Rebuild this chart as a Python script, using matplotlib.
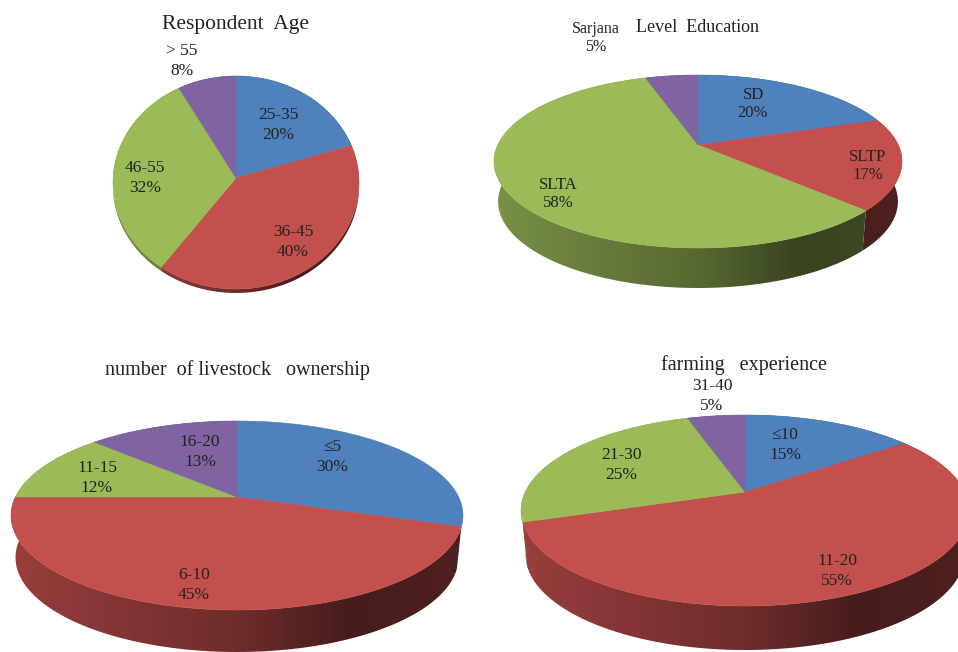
import numpy as np
import matplotlib
matplotlib.use("Agg")
import matplotlib.pyplot as plt
from matplotlib.colors import to_rgb
from matplotlib.patches import Polygon

plt.rcParams['font.family'] = ['Liberation Serif', 'DejaVu Serif']

W, H = 958, 652
COLORS = ['#4F81BD', '#C4504D', '#9BBB59', '#8064A2']

age_labels = ['25-35', '36-45', '46-55', '> 55']
age_values = [20, 40, 32, 8]
edu_labels = ['SD', 'SLTP', 'SLTA', 'Sarjana']
edu_values = [20, 17, 58, 5]
stock_labels = ['≤5', '6-10', '11-15', '16-20']
stock_values = [30, 45, 12, 13]
farm_labels = ['≤10', '11-20', '21-30', '31-40']
farm_values = [15, 55, 25, 5]

fig = plt.figure(figsize=(W / 100, H / 100), dpi=100, facecolor='white')


def draw_pie(box, centre, rx, up, down, depth, values, taper=0.98, no_wall=()):
    x0, y0, x1, y1 = box
    ax = fig.add_axes([x0 / W, 1 - y1 / H, (x1 - x0) / W, (y1 - y0) / H])
    k = (down - up) / (down + up)
    a = 2 * up * down / (up + down)
    ax_x = rx * np.sqrt(1 - k * k)

    def project(t):
        x, y = np.cos(t), np.sin(t)
        d = 1 + k * y
        return ax_x * x / d, a * y / d

    edges = np.radians(90 - 3.6 * np.cumsum([0] + list(values)))
    frac = np.linspace(0, 1, 256)
    shade = np.interp(frac, [0, 0.12, 0.5, 0.75, 1.0], [0.78, 0.72, 0.56, 0.36, 0.40])
    arcs = [project(np.linspace(edges[i], edges[i + 1], 200)) for i in range(len(COLORS))]
    order = sorted(range(len(COLORS)), key=lambda i: -arcs[i][1].min())
    for z, i in enumerate(order):
        if i in no_wall:
            continue
        base = np.array(to_rgb(COLORS[i]))
        X, Y = arcs[i]
        poly = np.column_stack([np.r_[X, X[::-1] * taper],
                                np.r_[Y, Y[::-1] - depth]])
        patch = Polygon(poly, closed=True, fc='none', ec='none', zorder=1)
        ax.add_patch(patch)
        grad = (base[None, None, :] * shade[None, :, None])
        im = ax.imshow(grad, extent=(-rx, rx, -down - depth - 5, up + 5),
                       aspect='auto', zorder=1 + z * 0.01, interpolation='bilinear')
        im.set_clip_path(patch)
    for i, col in enumerate(COLORS):
        X, Y = arcs[i]
        ax.fill(np.r_[0, X], np.r_[0, Y], color=col, lw=0.4, zorder=2)
    ax.set_xlim(x0 - centre[0], x1 - centre[0])
    ax.set_ylim(centre[1] - y1, centre[1] - y0)
    ax.axis('off')


draw_pie((100, 65, 370, 300), (236, 178), 123, 102, 111, 4, age_values, taper=1.0)
draw_pie((485, 65, 912, 295), (698, 145), 204, 70, 103, 40, edu_values)
draw_pie((0, 410, 475, 652), (237, 497), 226, 76, 113, 42, stock_values, no_wall=(0,))
draw_pie((510, 405, 958, 652), (745, 492), 224, 77, 114, 44, farm_values)


def label(px, py, s, size=12.5, ls=1.32):
    fig.text(px / W, 1 - (py + 2) / H, s, ha='center', va='center', fontsize=size,
             color='#222222', linespacing=ls)


label(236, 23, 'Respondent  Age', 15.5)
label(698, 26, 'Level  Education', 13)
label(237, 368, 'number  of livestock   ownership', 14.5)
label(744, 363, 'farming   experience', 14.5)

age_pos = [(278, 123), (293, 240), (145, 176), (182, 59)]
edu_pos = [(753, 102), (868, 164), (558, 192), (596, 36)]
stock_pos = [(332, 455), (194, 583), (97, 476), (200, 450)]
farm_pos = [(785, 443), (837, 569), (621, 463), (712, 394)]
edu_sizes = [12, 12, 12, 11.5]

for labs, vals, pos, sizes, ls in [
    (age_labels, age_values, age_pos, [12.5] * 4, 1.32),
    (edu_labels, edu_values, edu_pos, edu_sizes, 1.22),
    (stock_labels, stock_values, stock_pos, [12.5] * 4, 1.32),
    (farm_labels, farm_values, farm_pos, [12.5] * 4, 1.32),
]:
    for lab, v, p, s in zip(labs, vals, pos, sizes):
        label(p[0], p[1], f'{lab}\n{v}%', s, ls)

fig.savefig('out.png', dpi=100)
